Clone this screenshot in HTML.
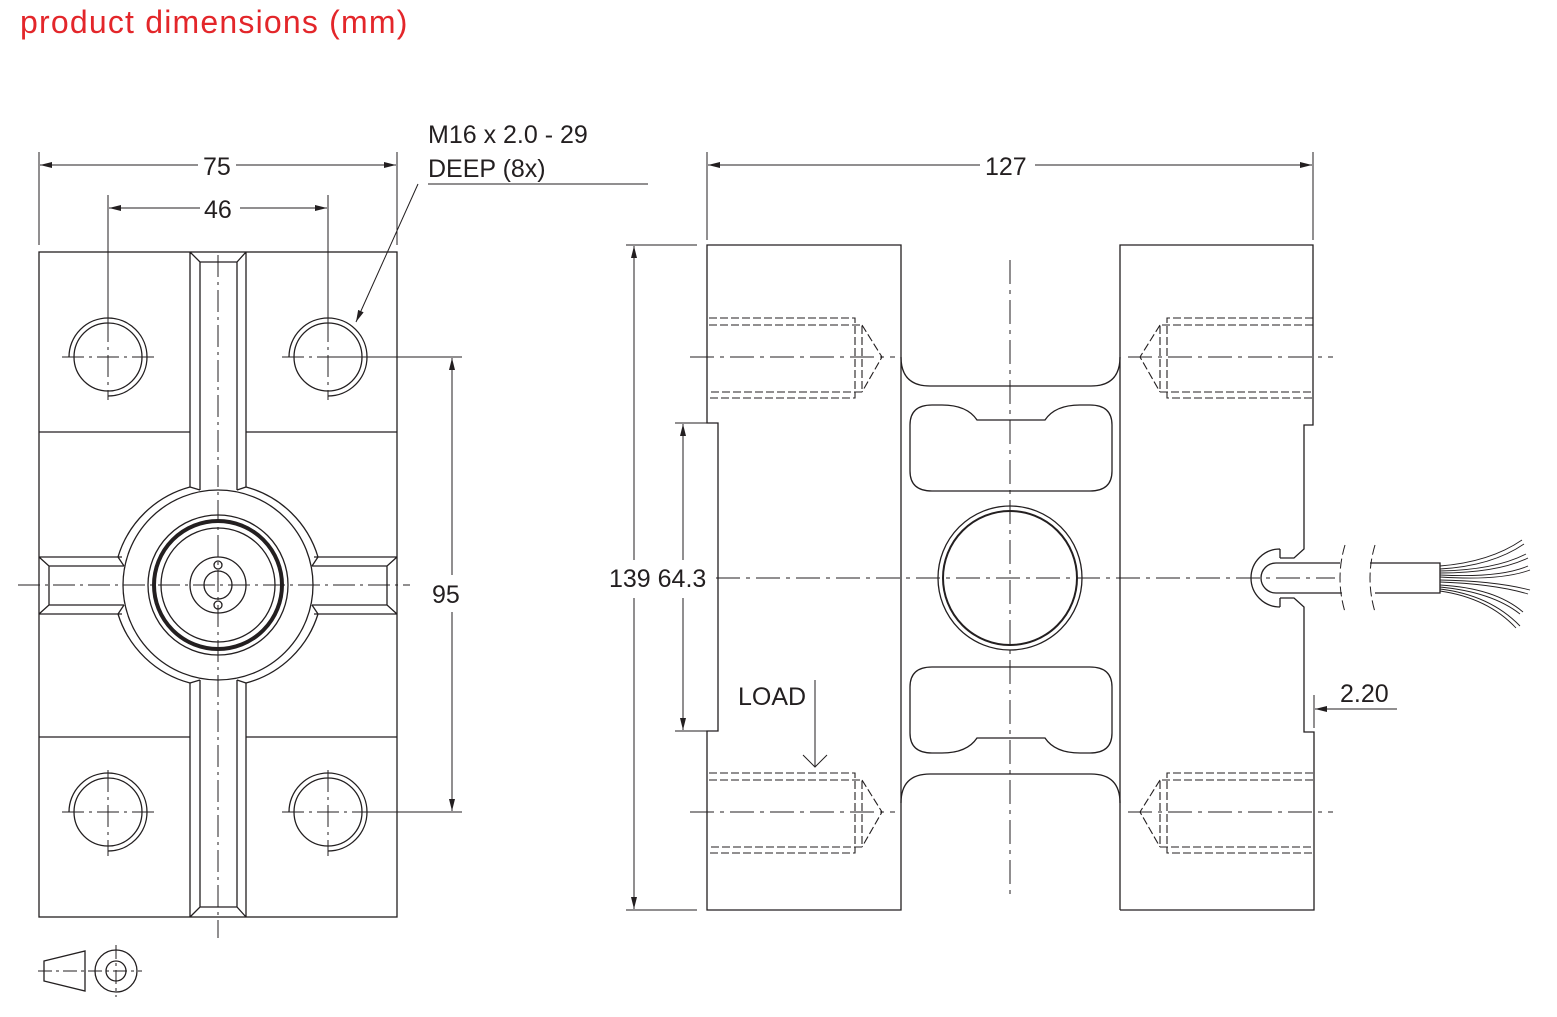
<!DOCTYPE html>
<html><head><meta charset="utf-8"><style>
html,body{margin:0;padding:0;background:#fff;}
svg{display:block;}
text{font-family:"Liberation Sans",sans-serif;fill:#231f20;}
</style></head><body>
<svg width="1557" height="1017" viewBox="0 0 1557 1017" xmlns="http://www.w3.org/2000/svg">
<defs>
<marker id="a" viewBox="0 0 12 6" refX="12" refY="3" markerWidth="12" markerHeight="6" orient="auto-start-reverse" markerUnits="userSpaceOnUse"><path d="M0,0 L12,3 L0,6 z" fill="#231f20"/></marker>
</defs>
<text x="20" y="33" font-size="32" letter-spacing="1.2" style="fill:#e3262a">product dimensions (mm)</text>

<g fill="none" stroke="#231f20" stroke-width="1.3">
<!-- LEFT VIEW -->
<rect x="39" y="252" width="358" height="665"/>
<line x1="39" y1="432" x2="190" y2="432"/><line x1="246" y1="432" x2="397" y2="432"/>
<line x1="39" y1="737" x2="190" y2="737"/><line x1="246" y1="737" x2="397" y2="737"/>
<path d="M190,252 L190,487 M246,252 L246,487 M200,262 L200,490 M237,262 L237,490 M190,252 L200,262 L237,262 L246,252"/>
<path d="M190,917 L190,683 M246,917 L246,683 M200,907 L200,680 M237,907 L237,680 M190,917 L200,907 L237,907 L246,917"/>
<path d="M39,557 L122,557 M39,614 L122,614 M49,566 L124,566 M49,605 L124,605 M39,557 L49,566 L49,605 L39,614"/>
<path d="M397,557 L314,557 M397,614 L314,614 M387,566 L312,566 M387,605 L312,605 M397,557 L387,566 L387,605 L397,614"/>
<path d="M190,487 A103,103 0 0 0 118,557 L124,566"/>
<path d="M246,487 A103,103 0 0 1 318,557 L312,566"/>
<path d="M190,683 A103,103 0 0 1 118,614 L124,605"/>
<path d="M246,683 A103,103 0 0 0 318,614 L312,605"/>
<path d="M190,487 L200,490 M246,487 L237,490 M190,683 L200,680 M246,683 L237,680"/>
<circle cx="218" cy="585" r="95"/>
<circle cx="218" cy="585" r="70"/>
<circle cx="218" cy="585" r="64" stroke-width="4"/>
<circle cx="218" cy="585" r="57"/>
<circle cx="218" cy="585" r="28"/>
<circle cx="218" cy="585" r="14"/>
<circle cx="218" cy="565" r="4"/><circle cx="218" cy="605" r="4"/>
<g id="h"><circle cx="108" cy="357" r="34"/><path d="M69,357 A39,39 0 1 1 108,396"/></g>
<use href="#h" x="220"/><use href="#h" y="455"/><use href="#h" x="220" y="455"/>
<g stroke-width="1" stroke-dasharray="22,5,3,5">
<line x1="218" y1="255" x2="218" y2="938"/>
<line x1="18" y1="585" x2="410" y2="585"/>
<line x1="62" y1="357" x2="155" y2="357"/><line x1="108" y1="320" x2="108" y2="400"/>
<line x1="62" y1="812" x2="155" y2="812"/><line x1="108" y1="770" x2="108" y2="856"/>
<line x1="282" y1="812" x2="375" y2="812"/><line x1="328" y1="770" x2="328" y2="856"/>
<line x1="328" y1="320" x2="328" y2="400"/><line x1="282" y1="357" x2="328" y2="357"/>
</g>
<line x1="328" y1="357" x2="462" y2="357" stroke-width="1"/>
<line x1="370" y1="812" x2="462" y2="812" stroke-width="1"/>
<g stroke-width="1">
<line x1="39" y1="152" x2="39" y2="245"/><line x1="397" y1="152" x2="397" y2="245"/>
<line x1="40" y1="165" x2="198" y2="165" marker-start="url(#a)"/><line x1="236" y1="165" x2="396" y2="165" marker-end="url(#a)"/>
<line x1="108" y1="195" x2="108" y2="320"/><line x1="328" y1="195" x2="328" y2="320"/>
<line x1="109" y1="208" x2="200" y2="208" marker-start="url(#a)"/><line x1="240" y1="208" x2="327" y2="208" marker-end="url(#a)"/>
<line x1="452" y1="358" x2="452" y2="575" marker-start="url(#a)"/><line x1="452" y1="612" x2="452" y2="811" marker-end="url(#a)"/>
<line x1="428" y1="184" x2="648" y2="184"/>
<line x1="418" y1="184" x2="356" y2="322" marker-end="url(#a)"/>
</g>
<path d="M44,961 L85,951 L85,991 L44,981 Z"/>
<circle cx="116" cy="971" r="21"/><circle cx="116" cy="971" r="10"/>
<g stroke-width="1" stroke-dasharray="14,4,3,4"><line x1="38" y1="971" x2="142" y2="971"/><line x1="116" y1="945" x2="116" y2="997"/></g>

<!-- RIGHT VIEW -->
<path d="M901,245 L707,245 L707,423 L718,423 L718,731 L707,731 L707,910 L901,910 Z"/>
<path d="M1120,910 L1120,245 L1313,245 L1313,425 L1304,425 L1304,549 L1294,558 L1280,558 M1280,598 L1294,598 L1304,607 L1304,732 L1314,732 L1314,910 L1120,910"/>
<path d="M901,357 Q901,386 930,386 L1091,386 Q1120,386 1120,357"/>
<path d="M901,803 Q901,774 930,774 L1091,774 Q1120,774 1120,803"/>
<path d="M977,420 L1045,420 Q1055,405 1080,405 L1090,405 Q1112,405 1112,425 L1112,471 Q1112,491 1090,491 L932,491 Q910,491 910,471 L910,425 Q910,405 932,405 L942,405 Q967,405 977,420 Z"/>
<path d="M977,738 L1045,738 Q1055,753 1080,753 L1090,753 Q1112,753 1112,733 L1112,687 Q1112,667 1090,667 L932,667 Q910,667 910,687 L910,733 Q910,753 932,753 L942,753 Q967,753 977,738 Z"/>
<circle cx="1010" cy="578" r="72"/><circle cx="1010" cy="578" r="67" stroke-width="2"/>
<path d="M1280,549 A29,29 0 0 0 1280,607 M1280,549 L1280,558 M1280,598 L1280,607"/>
<path d="M1340,563 L1276,563 A15,15 0 0 0 1276,593 L1342,593"/>
<path d="M1370,563 L1440,563 L1440,593 L1375,593"/>
<g stroke-width="1" stroke-dasharray="10,4"><path d="M1345,545 Q1335,578 1345,612"/><path d="M1375,545 Q1365,578 1375,612"/></g>
<g stroke-width="0.9">
<path d="M1440,566 Q1490,562 1522,540 M1440,569 Q1492,566 1524,544"/>
<path d="M1440,571 Q1495,570 1526,554 M1440,573 Q1497,573 1528,558"/>
<path d="M1440,575 Q1500,578 1528,566 M1440,577 Q1500,581 1530,570"/>
<path d="M1440,580 Q1495,581 1530,590 M1440,582 Q1495,584 1528,594"/>
<path d="M1440,585 Q1495,588 1523,612 M1440,587 Q1492,592 1520,614"/>
<path d="M1440,589 Q1490,595 1520,626 M1440,591 Q1488,598 1516,628"/>
</g>
<g stroke-width="1.1" stroke-dasharray="8,3">
<g id="th"><path d="M709,318 L855,318 L855,398 L709,398 M709,325 L862,325 L862,392 L709,392 M862,325 L882,357 L862,392"/></g>
<use href="#th" y="455"/>
<g transform="translate(2022,0) scale(-1,1)"><use href="#th"/><use href="#th" y="455"/></g>
</g>
<g stroke-width="1" stroke-dasharray="24,6,4,6">
<line x1="690" y1="357" x2="895" y2="357"/><line x1="690" y1="812" x2="895" y2="812"/>
<line x1="1128" y1="357" x2="1333" y2="357"/><line x1="1128" y1="812" x2="1333" y2="812"/>
<line x1="716" y1="578" x2="1335" y2="578"/>
<line x1="1010" y1="260" x2="1010" y2="895"/>
</g>
<g stroke-width="1">
<line x1="707" y1="152" x2="707" y2="240"/><line x1="1313" y1="152" x2="1313" y2="240"/>
<line x1="708" y1="165" x2="980" y2="165" marker-start="url(#a)"/><line x1="1035" y1="165" x2="1312" y2="165" marker-end="url(#a)"/>
<line x1="626" y1="245" x2="697" y2="245"/><line x1="626" y1="910" x2="697" y2="910"/>
<line x1="634" y1="246" x2="634" y2="560" marker-start="url(#a)"/><line x1="634" y1="598" x2="634" y2="909" marker-end="url(#a)"/>
<line x1="675" y1="423" x2="716" y2="423"/><line x1="675" y1="731" x2="716" y2="731"/>
<line x1="683" y1="424" x2="683" y2="560" marker-start="url(#a)"/><line x1="683" y1="598" x2="683" y2="730" marker-end="url(#a)"/>
<line x1="815" y1="680" x2="815" y2="767"/><path d="M803,755 L815,767 L827,755"/>
<line x1="1314" y1="695" x2="1314" y2="728"/>
<line x1="1397" y1="709" x2="1315" y2="709" marker-end="url(#a)"/>
</g>
</g>
<rect x="420" y="578" width="60" height="32" fill="#fff"/>
<g font-size="25">
<text x="203" y="175" style="paint-order:stroke" stroke="#fff" stroke-width="6">75</text>
<text x="204" y="218">46</text>
<text x="432" y="603">95</text>
<text x="985" y="175">127</text>
<text x="609" y="587">139 64.3</text>
<text x="428" y="143">M16 x 2.0 - 29</text>
<text x="428" y="177">DEEP (8x)</text>
<text x="738" y="705">LOAD</text>
<text x="1340" y="702">2.20</text>
</g>
</svg>
</body></html>
